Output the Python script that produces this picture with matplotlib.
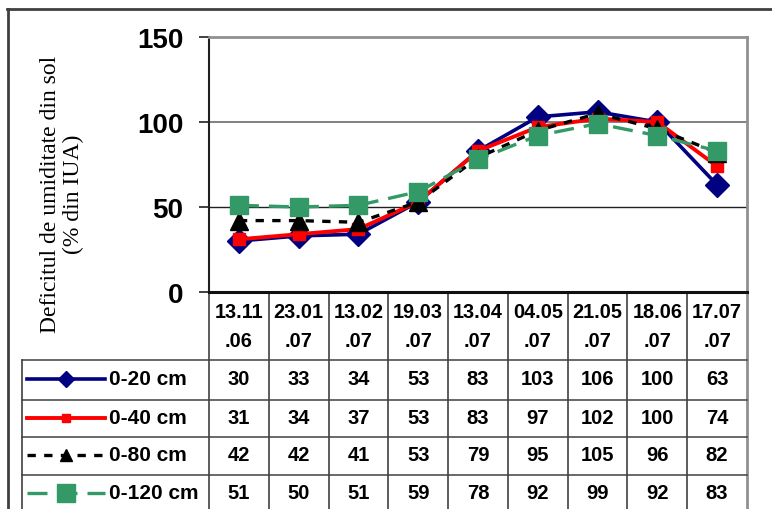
import matplotlib
matplotlib.use("Agg")
import matplotlib.pyplot as plt

# measurement dates (two-line labels) and soil moisture deficit per depth
dates = ["13.11\n.06", "23.01\n.07", "13.02\n.07", "19.03\n.07", "13.04\n.07",
         "04.05\n.07", "21.05\n.07", "18.06\n.07", "17.07\n.07"]
d20 = [30, 33, 34, 53, 83, 103, 106, 100, 63]
d40 = [31, 34, 37, 53, 83, 97, 102, 100, 74]
d80 = [42, 42, 41, 53, 79, 95, 105, 96, 82]
d120 = [51, 50, 51, 59, 78, 92, 99, 92, 83]
labels = ["0-20 cm", "0-40 cm", "0-80 cm", "0-120 cm"]
yticks = [0, 50, 100, 150]

styles = [
    dict(color="#000080", lw=2.6, ls="-", marker="D", ms=12),
    dict(color="#FF0000", lw=2.8, ls="-", marker="s", ms=8.5),
    dict(color="#000000", lw=2.4, dashes=(2.5, 2.5), marker="^", ms=13),
    dict(color="#339966", lw=2.4, dashes=(6, 3), marker="s", ms=12.5),
]
series = [d20, d40, d80, d120]

W, H = 772, 510
L, R, T, B = 209, 747, 38, 293          # plot area, pixels
rows_y = [361, 401, 438, 476, 514]      # table row boundaries
tab_left = 22
bold = dict(family="Liberation Sans", weight="bold")

fig = plt.figure(figsize=(W / 100, H / 100), dpi=100)
ax = fig.add_axes([L / W, 1 - B / H, (R - L) / W, (B - T) / H])

n = len(dates)
xs = [i + 0.5 for i in range(n)]
for vals, st in zip(series, styles):
    ax.plot(xs, vals, mec=st["color"], mfc=st["color"], clip_on=False, **st)

ax.set_xlim(0, n)
ax.set_ylim(0, 150)
ax.set_xticks([])
ax.set_yticks(yticks)
ax.set_yticklabels([str(v) for v in yticks], fontsize=20, **bold)
ax.tick_params(axis="y", direction="out", length=7.5, width=1.2, pad=11, color="#202020")
ax.axhline(50, color="#202020", lw=1.0, zorder=0)
ax.axhline(100, color="#808080", lw=1.4, zorder=0)
for side in ("top", "right"):
    ax.spines[side].set_color("#909090")
    ax.spines[side].set_linewidth(2)
ax.spines["left"].set_color("#202020")
ax.spines["left"].set_linewidth(1.5)
ax.spines["bottom"].set_color("#101010")
ax.spines["bottom"].set_linewidth(2.2)

fig.text(62 / W, 1 - 194 / H, "Deficitul de umiditate din sol\n(% din IUA)",
         rotation=90, ha="center", va="center", ma="center",
         family="Liberation Serif", fontsize=17, linespacing=1.15)

# data table under the plot, drawn in pixel coordinates
tb = fig.add_axes([0, 0, 1, 1], zorder=-1)
tb.set_xlim(0, W)
tb.set_ylim(H, 0)
tb.axis("off")

cw = (R - L) / n
edges = [L + i * cw for i in range(n + 1)]
for i, x in enumerate(edges):
    c = "#909090" if i == n else "#303030"
    tb.plot([x, x], [B, H], color=c, lw=2 if i == n else 1.1)
tb.plot([tab_left, tab_left], [rows_y[0], H], color="#303030", lw=1.1)
for y in rows_y[:-1]:
    tb.plot([tab_left, R], [y, y], color="#404040", lw=1.1)

for i, d in enumerate(dates):
    top, bot = d.split("\n")
    cx = L + (i + 0.5) * cw
    tb.text(cx, 313, top, ha="center", va="center", fontsize=14.3, **bold)
    tb.text(cx, 342, bot, ha="center", va="center", fontsize=14.3, **bold)

for r, (vals, st, lab) in enumerate(zip(series, styles, labels)):
    cy = (rows_y[r] + rows_y[r + 1]) / 2 - 1
    for i, v in enumerate(vals):
        tb.text(L + (i + 0.5) * cw, cy, str(v), ha="center", va="center",
                fontsize=14.5, **bold)
    line = {k: v for k, v in st.items() if k not in ("marker", "ms")}
    tb.plot([27, 105], [cy, cy], **line)
    tb.plot([66], [cy], ls="none", marker=st["marker"], color=st["color"],
            ms=st["ms"] * (0.7 if r < 3 else 1.0))
    tb.text(109, cy, lab, ha="left", va="center", fontsize=15, **bold)

# outer chart frame
tb.plot([7.5, 7.5], [10, H], color="#404040", lw=2)
tb.plot([7, W], [10, 10], color="#404040", lw=2)

fig.savefig("out.png", dpi=100)
